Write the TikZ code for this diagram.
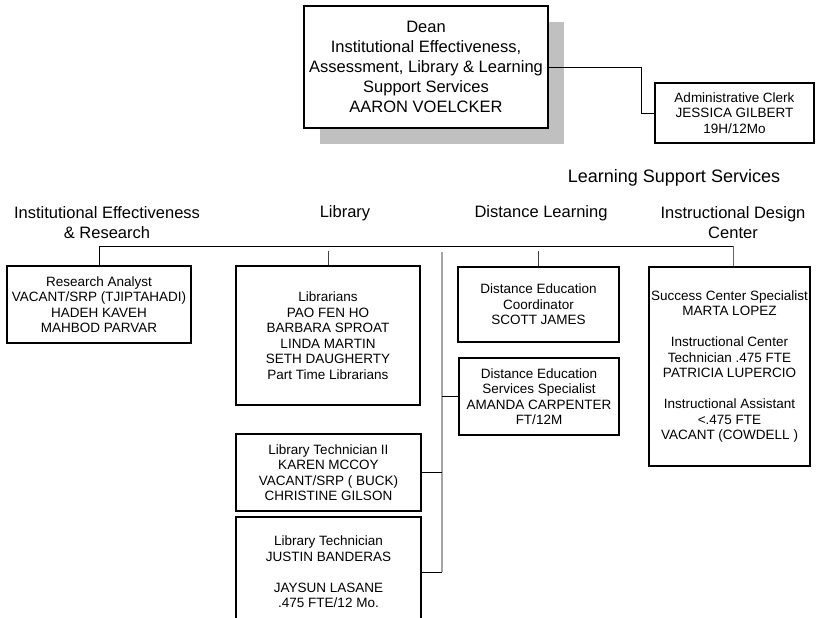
\documentclass[tikz,border=0pt]{standalone}
\usepackage{fontspec}
\setmainfont{Liberation Sans}
\definecolor{shadowgray}{RGB}{192,192,192}
\definecolor{spinegray}{RGB}{165,165,165}
\usetikzlibrary{shadows}

\begin{document}
\begin{tikzpicture}[x=1pt, y=-1pt,
    staffbox/.style={draw, line width=1.5pt, fill=white, align=center, inner sep=0pt,
      font=\fontsize{13.5}{15.5}\selectfont},
    unithead/.style={align=center, inner sep=0pt, font=\fontsize{16.5}{20}\selectfont},
    link/.style={line width=0.9pt}]
    \useasboundingbox (0,0) rectangle (817,618);
    \clip (0,0) rectangle (817,618);

    % Dean with gray shadow
    \node[staffbox, minimum width=244, minimum height=122,
          font=\fontsize{16.5}{20}\selectfont,
          general shadow={fill=shadowgray, shadow xshift=16pt, shadow yshift=-16pt}]
      (dean) at (426,67)
      {Dean\\Institutional Effectiveness,\\Assessment, Library \& Learning\\Support Services\\AARON VOELCKER};

    % Clerk
    \node[staffbox, minimum width=159, minimum height=60] (clerk) at (734.5,113)
      {Administrative Clerk\\JESSICA GILBERT\\19H/12Mo};
    \coordinate (bend) at (641,67);
    \draw[link] (dean.east) -- (bend) |- (clerk.west);

    % Unit headings
    \node[font=\fontsize{18}{22}\selectfont, inner sep=0pt] (lss) at (674,178) {Learning Support Services};
    \node[unithead] (hier) at (107,223) {Institutional Effectiveness\\\& Research};
    \node[unithead] (hlib) at (345,213) {Library};
    \node[unithead] (hdl) at (541,213) {Distance Learning};
    \node[unithead] (hidc) at (733,223) {Instructional Design\\Center};

    % Staff boxes
    \node[staffbox, minimum width=184, minimum height=77] (research) at (99,304.5)
      {Research Analyst\\VACANT/SRP (TJIPTAHADI)\\HADEH KAVEH\\MAHBOD PARVAR};
    \node[staffbox, minimum width=184, minimum height=139] (librarians) at (328,335.5)
      {Librarians\\PAO FEN HO\\BARBARA SPROAT\\LINDA MARTIN\\SETH DAUGHERTY\\Part Time Librarians};
    \node[staffbox, minimum width=161, minimum height=75] (decoord) at (538.5,304.5)
      {Distance Education\\Coordinator\\SCOTT JAMES};
    \node[staffbox, minimum width=160, minimum height=77] (deserv) at (539,396.5)
      {Distance Education\\Services Specialist\\AMANDA CARPENTER\\FT/12M};
    \node[staffbox, minimum width=161, minimum height=199] (idc) at (729.5,366.5)
      {Success Center Specialist\\MARTA LOPEZ\\[15.5pt]Instructional Center\\Technician .475 FTE\\PATRICIA LUPERCIO\\[15.5pt]Instructional Assistant\\<.475 FTE\\VACANT (COWDELL )};
    \node[staffbox, minimum width=185, minimum height=77] (libtechii) at (328.5,472.5)
      {Library Technician II\\KAREN MCCOY\\VACANT/SRP ( BUCK)\\CHRISTINE GILSON};
    \node[staffbox, minimum width=185, minimum height=110] (libtech) at (328.5,572)
      {Library Technician\\JUSTIN BANDERAS\\[15.5pt]JAYSUN LASANE\\.475 FTE/12 Mo.};

    % Main bus and drops
    \coordinate (busL) at (99,246);
    \coordinate (busR) at (733,246);
    \draw[link] (busL) -- (busR);
    \draw[link] (busL) -- (research.north);
    \draw[link, spinegray!60!black] (busR) -- (busR |- idc.north);
    \draw[link, black!75] (librarians.north) -- ++(0,-14);
    \draw[link, black!75] (decoord.north) -- ++(0,-15);

    % Gray spine to the lower boxes
    \coordinate (spineT) at (442,252);
    \coordinate (spineB) at (442,572);
    \draw[line width=1.2pt, spinegray] (spineT) -- (spineB);
    \draw[link] (deserv.west) -- (deserv.west -| spineT);
    \draw[link] (libtechii.east) -- (libtechii.east -| spineT);
    \draw[link] (libtech.east) -- (spineB);
\end{tikzpicture}
\end{document}
